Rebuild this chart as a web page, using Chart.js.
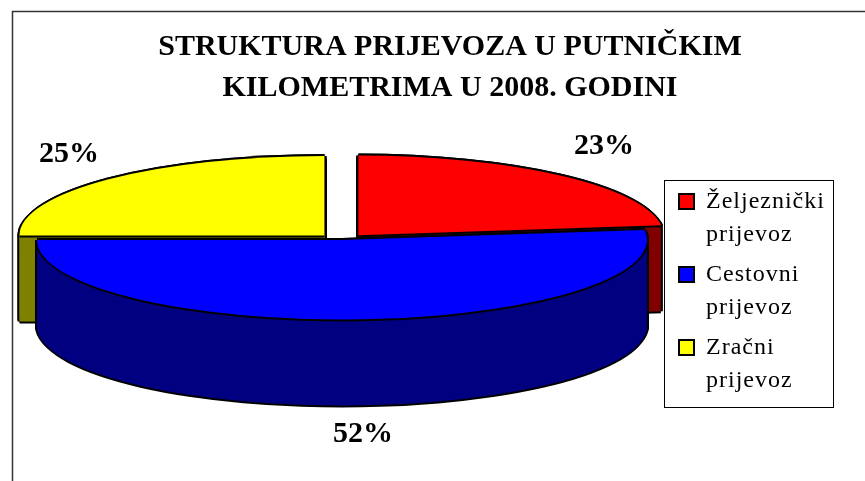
<!DOCTYPE html>
<html lang="hr">

<head>
  <meta charset="UTF-8" />
  <title>Struktura prijevoza</title>
  <script src="https://cdn.jsdelivr.net/npm/chart.js"></script>
  <style>
    body { margin: 0; background: #fff; }
    canvas { display: block; }
  </style>
</head>

<body>
  <canvas id="pieChart" width="865" height="481"></canvas>

  <script>
    const titleLines = ['STRUKTURA PRIJEVOZA U PUTNIČKIM', 'KILOMETRIMA U 2008. GODINI'];
    const categories = ['Željeznički prijevoz', 'Cestovni prijevoz', 'Zračni prijevoz'];
    const shares = [23, 52, 25];
    const topColors = ['#ff0000', '#0000ff', '#ffff00'];
    const sideColors = ['#800000', '#000080', '#808000'];
    const explode = [52, 0, 52];

    // kako izgleda 3D pita na ekranu
    const pie = { cx: 342, cy: 240, rx: 305, ry: 79.5, depth: 86 };
    const labelSpots = [[604, 146], [363, 434], [69, 154]];
    const legendBox = { left: 664, top: 180, right: 833, bottom: 407 };
    const drawOrder = [2, 0, 1];

    function paintArc(ctx, el, color, dx, dy) {
      const k = pie.rx / el.outerRadius;
      const ky = pie.ry / el.outerRadius;
      const copy = Object.create(el);
      copy.options = Object.assign({}, el.options, { backgroundColor: color, borderWidth: 0 });
      ctx.save();
      ctx.translate(pie.cx + dx, pie.cy + dy);
      ctx.scale(k, ky);
      ctx.translate(-el.x, -el.y);
      copy.draw(ctx);
      ctx.restore();
    }

    const pie3d = {
      id: 'pie3d',
      beforeDraw(chart) {
        const ctx = chart.ctx;
        // okvir slike, samo lijevo i gore
        ctx.save();
        ctx.strokeStyle = '#333';
        ctx.lineWidth = 1.5;
        ctx.beginPath();
        ctx.moveTo(12.5, 481);
        ctx.lineTo(12.5, 11.5);
        ctx.lineTo(865, 11.5);
        ctx.stroke();

        // okvir legende
        const b = legendBox;
        ctx.strokeStyle = '#000';
        ctx.lineWidth = 1;
        ctx.strokeRect(b.left + 0.5, b.top + 0.5, b.right - b.left, b.bottom - b.top);
        ctx.restore();

        const lg = chart.legend;
        lg.left = b.left + 8;
        lg.top = b.top + 4;
        lg.right = b.right;
        lg.bottom = b.bottom;

        // razmak slova samo u legendi
        if (!lg.spaced) {
          const drawLegend = lg.draw;
          lg.draw = function () {
            ctx.letterSpacing = '1px';
            drawLegend.call(lg);
            ctx.letterSpacing = '0px';
          };
          lg.spaced = true;
        }
      },
      beforeDatasetsDraw(chart) {
        const ctx = chart.ctx;
        const arcs = chart.getDatasetMeta(0).data;
        const pen = 2;
        const around = [[-pen, 0], [pen, 0], [0, -pen], [0, pen]];

        drawOrder.forEach((i) => {
          const el = arcs[i];
          // crni obris cijelog bloka pa bocna strana
          for (let d = pie.depth; d >= 0; d--) {
            around.forEach((p) => paintArc(ctx, el, '#000', p[0], d + p[1]));
          }
          for (let d = pie.depth; d >= 1; d--) {
            paintArc(ctx, el, sideColors[i], 0, d);
          }
          around.forEach((p) => paintArc(ctx, el, '#000', p[0], p[1]));
          paintArc(ctx, el, topColors[i], 0, 0);
        });
        return false;
      },
      afterDraw(chart) {
        const ctx = chart.ctx;
        ctx.save();
        ctx.fillStyle = '#000';
        ctx.font = 'bold 30px "Liberation Serif"';
        ctx.textAlign = 'center';
        ctx.textBaseline = 'middle';
        shares.forEach((v, i) => {
          ctx.fillText(v + '%', labelSpots[i][0], labelSpots[i][1]);
        });
        ctx.restore();
      }
    };

    new Chart(document.getElementById('pieChart').getContext('2d'), {
      type: 'pie',
      data: {
        labels: categories,
        datasets: [{
          data: shares,
          backgroundColor: topColors,
          borderWidth: 0,
          offset: explode
        }]
      },
      options: {
        responsive: false,
        animation: false,
        layout: { padding: { left: 35, top: 27 } },
        plugins: {
          tooltip: { enabled: false },
          title: {
            display: true,
            text: titleLines,
            color: '#000',
            font: { family: '"Liberation Serif"', size: 30, weight: 'bold', lineHeight: 1.37 },
            padding: 0
          },
          legend: {
            position: 'right',
            labels: {
              color: '#000',
              font: { family: '"Liberation Serif"', size: 24, lineHeight: 1.375 },
              boxWidth: 15,
              boxHeight: 15,
              padding: 7,
              generateLabels: () => categories.map((name, i) => ({
                text: name.split(' '),
                fillStyle: topColors[i],
                strokeStyle: '#000',
                lineWidth: 2,
                hidden: false,
                index: i
              }))
            }
          }
        }
      },
      plugins: [pie3d]
    });
  </script>
</body>

</html>
